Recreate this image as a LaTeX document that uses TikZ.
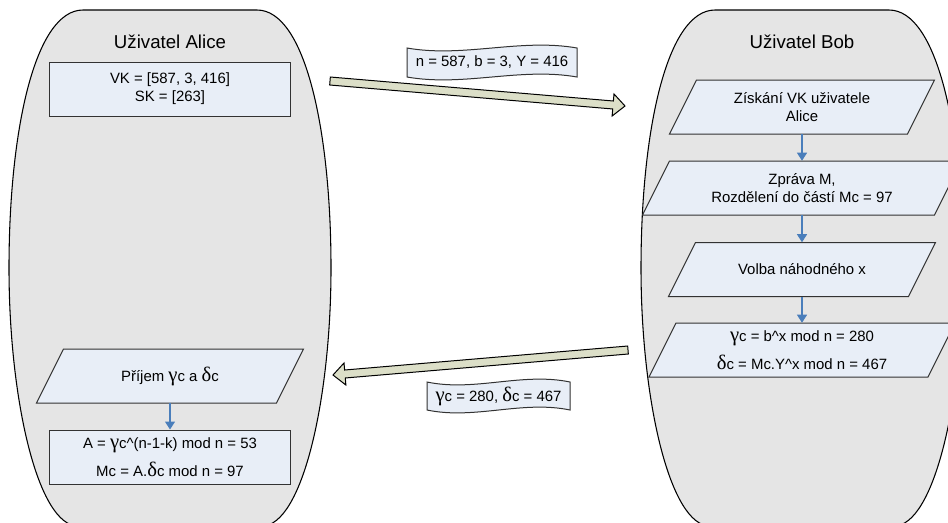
\documentclass[tikz,border=0pt]{standalone}
\usepackage{fontspec}
\setmainfont{Liberation Sans}
\newfontfamily\grkfont{Liberation Serif}
\usetikzlibrary{calc,arrows.meta}
\definecolor{poolfill}{RGB}{229,229,229}
\definecolor{boxfill}{RGB}{232,238,247}
\definecolor{boxline}{RGB}{50,50,50}
\definecolor{connblue}{RGB}{74,126,187}
\definecolor{fatfill}{RGB}{220,223,200}
\newcommand{\gm}{{\grkfont\fontsize{15.5}{14}\selectfont γ}}
\newcommand{\dl}{{\grkfont\fontsize{15.5}{14}\selectfont δ}}
\newcommand{\caret}{\textasciicircum}
\tikzset{
  pool/.style={fill=poolfill,draw=black,line width=0.8pt},
  boxstyle/.style={fill=boxfill,draw=boxline,line width=0.75pt},
  txt/.style={font=\fontsize{11.2}{13.6}\selectfont,align=center,inner sep=0pt},
  title/.style={font=\fontsize{14}{16}\selectfont,inner sep=0pt},
  rectbox/.style={boxstyle,txt,minimum width=180.75pt,minimum height=40.5pt},
  conn/.style={draw=connblue,line width=0.8pt,-{Triangle[width=7.5pt,length=6pt]}},
  fat/.style={fill=fatfill,draw=black,line width=0.75pt,line join=miter},
}
% pool shape centred at x=#1
\newcommand{\poolshape}[1]{%
  \filldraw[pool] ({#1-87},10) -- ({#1+87},10)
    .. controls ({#1+135},10) and ({#1+161},130) .. ({#1+161},268)
    .. controls ({#1+161},400) and ({#1+132},526) .. ({#1+92},526)
    -- ({#1-92},526)
    .. controls ({#1-132},526) and ({#1-161},400) .. ({#1-161},268)
    .. controls ({#1-161},130) and ({#1-135},10) .. ({#1-87},10) -- cycle;}
% parallelogram: name, cx, cy, side width, text
\newcommand{\parabox}[5]{%
  \filldraw[boxstyle] ({#2-(#4+27)/2},{#3+27}) -- ({#2+(#4-27)/2},{#3+27})
    -- ({#2+(#4+27)/2},{#3-27}) -- ({#2-(#4-27)/2},{#3-27}) -- cycle;
  \node[txt,minimum height=40.5pt,minimum width=150pt] (#1) at (#2,#3) {#5};}
% tape banner: name, x0, yt, x1, yb, text
\newcommand{\tape}[6]{%
  \filldraw[boxstyle] (#2,#3) .. controls ({#2+(#4-#2)/3},{#3+10}) and ({#2+2*(#4-#2)/3},{#3-10}) .. (#4,#3)
    -- (#4,#5) .. controls ({#2+2*(#4-#2)/3},{#5-10}) and ({#2+(#4-#2)/3},{#5+10}) .. (#2,#5) -- cycle;
  \node[txt] (#1) at ({(#2+#4)/2},{(#3+#5)/2}) {#6};}
% fat arrow from tail #1 to tip #2
\newcommand{\fatarrow}[2]{%
  \coordinate (hb) at ($(#2)!9pt!(#1)$);
  \filldraw[fat] ($(#1)!3pt!90:(#2)$) -- ($(hb)!3pt!-90:(#1)$) -- ($(hb)!8.3pt!-90:(#1)$)
    -- (#2) -- ($(hb)!8.3pt!90:(#1)$) -- ($(hb)!3pt!90:(#1)$) -- ($(#1)!3pt!-90:(#2)$) -- cycle;}
\begin{document}
\begin{tikzpicture}[x=0.75pt,y=-0.75pt]
\useasboundingbox (0,0) rectangle (948,522);
\clip (0,0) rectangle (948,522);
\fill[white] (0,0) rectangle (948,522);
% pools
\poolshape{170}
\poolshape{802}
\node[title] (alicetitle) at (170,42) {Uživatel Alice};
\node[title] (bobtitle) at (802,42) {Uživatel Bob};
% Alice
\node[rectbox] (keys) at (170,89) {VK = [587, 3, 416]\\SK = [263]};
\parabox{recv}{170}{376}{240}{Příjem \gm c a \dl c}
\node[rectbox] (calc) at (170,457) {A = \gm c\caret(n-1-k) mod n = 53\\[6pt]Mc = A.\dl c mod n = 97};
\draw[conn] (recv.south) -- (calc.north);
% Bob
\parabox{get}{802}{107}{238}{Získání VK uživatele\\Alice}
\parabox{msg}{802}{188}{292}{Zpráva M,\\Rozdělení do částí Mc = 97}
\parabox{rnd}{802}{269.5}{240}{Volba náhodného x}
\parabox{enc}{802}{350}{279}{\gm c = b\caret x mod n = 280\\[6pt]\dl c = Mc.Y\caret x mod n = 467}
\draw[conn] (get.south) -- (msg.north);
\draw[conn] (msg.south) -- (rnd.north);
\draw[conn] (rnd.south) -- (enc.north);
% transfers
\coordinate (t1) at (330,81);
\coordinate (p1) at (625,106);
\fatarrow{t1}{p1}
\coordinate (t2) at (628,350);
\coordinate (p2) at (333,375);
\fatarrow{t2}{p2}
\tape{pub}{407}{48}{577}{77}{n = 587, b = 3, Y = 416}
\tape{cipher}{427}{382}{570}{410}{\gm c = 280, \dl c = 467}
\end{tikzpicture}
\end{document}
